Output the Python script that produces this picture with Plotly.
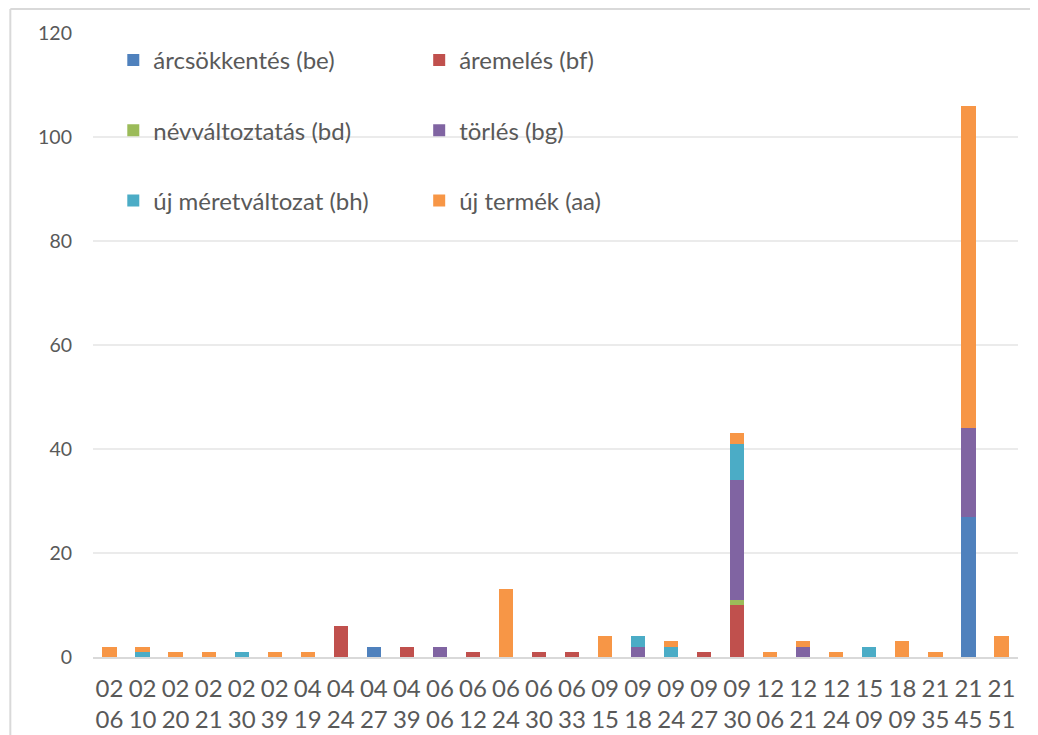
import plotly.graph_objects as go

categories = ["02<br>06", "02<br>10", "02<br>20", "02<br>21", "02<br>30", "02<br>39", "04<br>19",
              "04<br>24", "04<br>27", "04<br>39", "06<br>06", "06<br>12", "06<br>24", "06<br>30",
              "06<br>33", "09<br>15", "09<br>18", "09<br>24", "09<br>27", "09<br>30", "12<br>06",
              "12<br>21", "12<br>24", "15<br>09", "18<br>09", "21<br>35", "21<br>45", "21<br>51"]

arcsokkentes_be = [0, 0, 0, 0, 0, 0, 0, 0, 2, 0, 0, 0, 0, 0, 0, 0, 0, 0, 0, 0, 0, 0, 0, 0, 0, 0, 27, 0]
aremeles_bf     = [0, 0, 0, 0, 0, 0, 0, 6, 0, 2, 0, 1, 0, 1, 1, 0, 0, 0, 1, 10, 0, 0, 0, 0, 0, 0, 0, 0]
nevvaltoztatas_bd = [0, 0, 0, 0, 0, 0, 0, 0, 0, 0, 0, 0, 0, 0, 0, 0, 0, 0, 0, 1, 0, 0, 0, 0, 0, 0, 0, 0]
torles_bg       = [0, 0, 0, 0, 0, 0, 0, 0, 0, 0, 2, 0, 0, 0, 0, 0, 2, 0, 0, 23, 0, 2, 0, 0, 0, 0, 17, 0]
uj_meret_bh     = [0, 1, 0, 0, 1, 0, 0, 0, 0, 0, 0, 0, 0, 0, 0, 0, 2, 2, 0, 7, 0, 0, 0, 2, 0, 0, 0, 0]
uj_termek_aa    = [2, 1, 1, 1, 0, 1, 1, 0, 0, 0, 0, 0, 13, 0, 0, 4, 0, 1, 0, 2, 1, 1, 1, 0, 3, 1, 62, 4]

series = [
    ("árcsökkentés (be)", arcsokkentes_be, "#4F81BD", "legend"),
    ("áremelés (bf)", aremeles_bf, "#C0504D", "legend2"),
    ("névváltoztatás (bd)", nevvaltoztatas_bd, "#9BBB59", "legend"),
    ("törlés (bg)", torles_bg, "#8064A2", "legend2"),
    ("új méretváltozat (bh)", uj_meret_bh, "#4BACC6", "legend"),
    ("új termék (aa)", uj_termek_aa, "#F79646", "legend2"),
]

FONT = "Lato"
TXT = "#595959"
W, H = 1038, 735
OFF = 8  # page body margin offset
L, R = 92.7 - OFF, 1038 - (1018 - OFF)
T, B = 33 - OFF, H - (657 - OFF)
PW, PH = W - L - R, H - T - B

def px(x):
    return (x - OFF - L) / PW

def py(y):
    return (H - B - (y - OFF)) / PH

fig = go.Figure()
for name, vals, color, leg in series:
    fig.add_trace(go.Bar(
        x=categories, y=vals, name=name, legend=leg, legendgroup=name,
        marker=dict(color=color, line=dict(width=0)),
    ))

legend_common = dict(
    font=dict(family=FONT, size=24, color=TXT),
    tracegroupgap=36, bgcolor="rgba(0,0,0,0)", borderwidth=0,
    xanchor="left", yanchor="top", itemwidth=30,
)

fig.update_layout(
    width=W, height=H,
    margin=dict(l=L, r=R, t=T, b=B, autoexpand=False),
    paper_bgcolor="white", plot_bgcolor="white",
    barmode="stack", bargap=0.57,
    showlegend=True,
    legend=dict(x=px(113), y=py(38), **legend_common),
    legend2=dict(x=px(419), y=py(38), **legend_common),
    xaxis=dict(
        type="category", tickfont=dict(family=FONT, size=24, color=TXT),
        showgrid=False, showline=True, linecolor="#D9D9D9", linewidth=2,
        ticks="", automargin=False, tickangle=0, ticklabelstandoff=9,
    ),
    yaxis=dict(
        range=[0, 120], dtick=20, tickfont=dict(family=FONT, size=19.5, color=TXT),
        showgrid=True, gridcolor="#EBEBEB", gridwidth=1.5, zeroline=False,
        showline=False, ticks="", automargin=False, ticklabelstandoff=20,
    ),
    shapes=[
        dict(type="line", xref="paper", yref="paper", x0=px(10), x1=px(10), y0=py(745), y1=py(9),
             line=dict(color="#D9D9D9", width=2), layer="below"),
        dict(type="line", xref="paper", yref="paper", x0=px(10), x1=px(1046), y0=py(9), y1=py(9),
             line=dict(color="#D9D9D9", width=2), layer="below"),
    ],
)

fig.write_html("out.html")
